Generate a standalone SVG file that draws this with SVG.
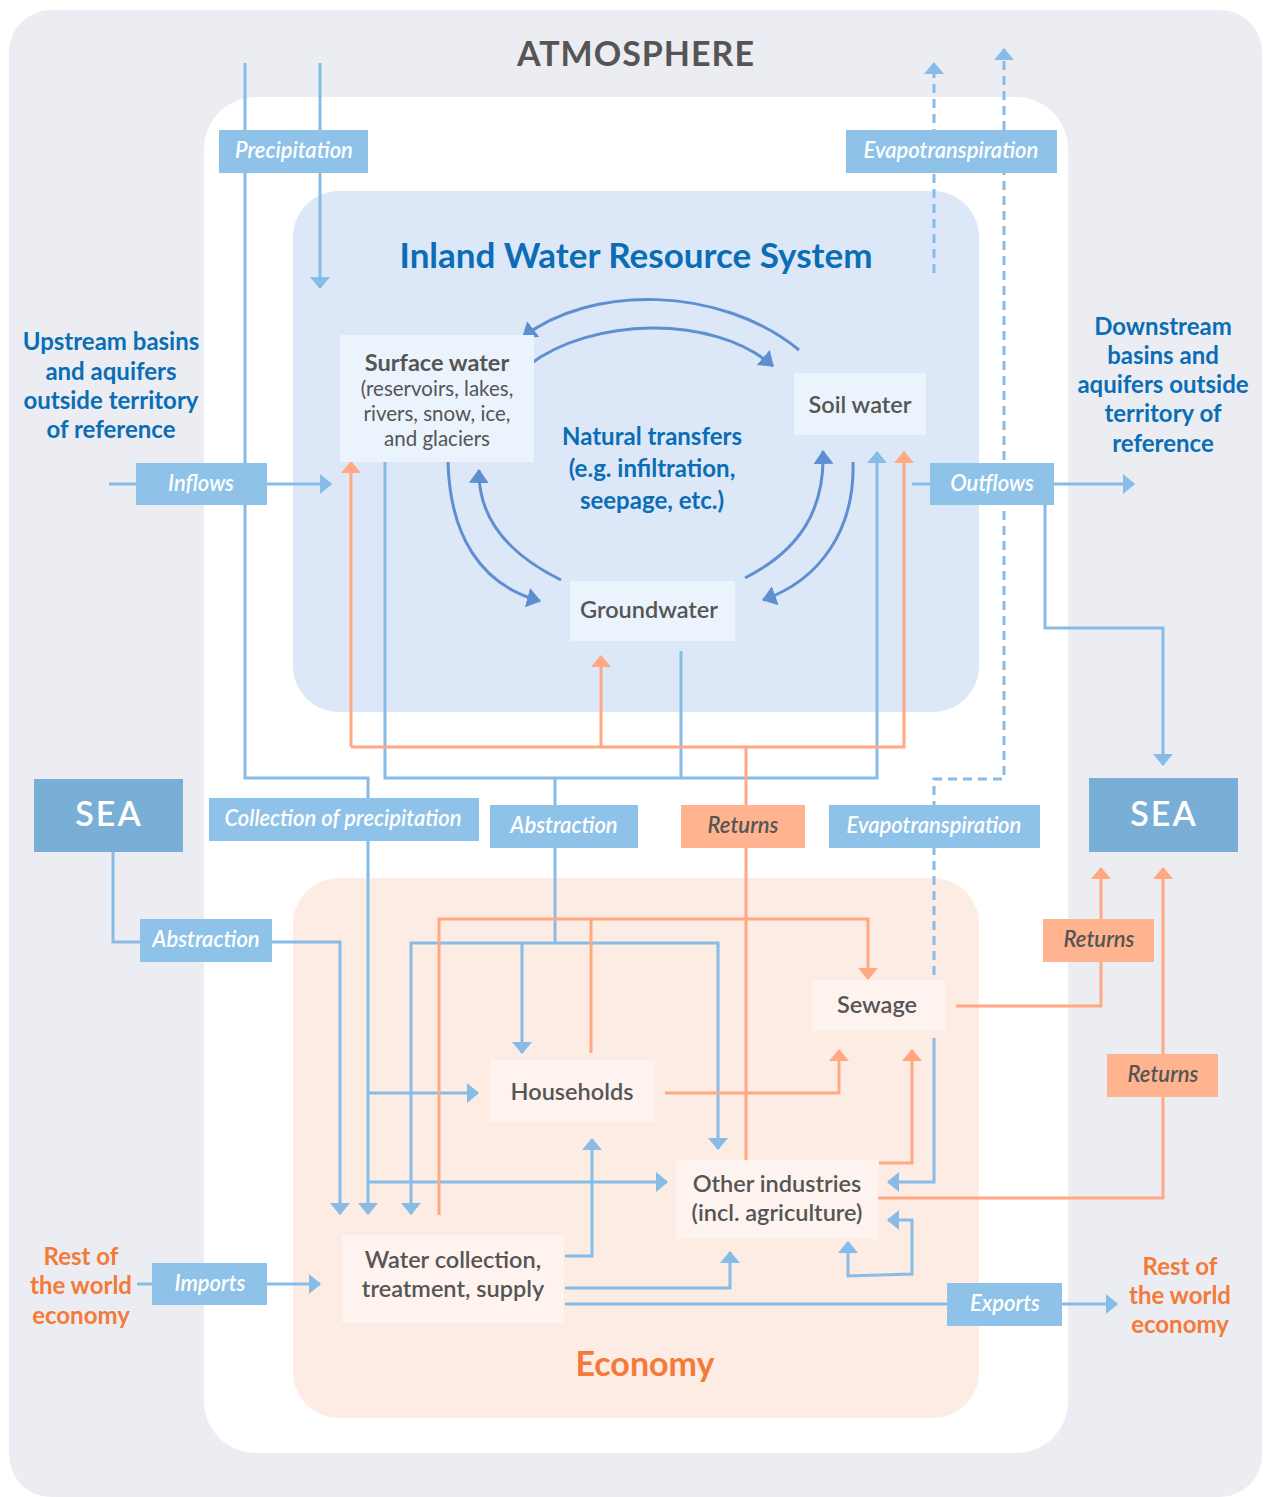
<svg xmlns="http://www.w3.org/2000/svg" width="1263" height="1497" viewBox="0 0 1263 1497">
  <style>
    text { font-family: Lato, "Liberation Sans", sans-serif; }
    .blue { fill: none; stroke: #86BCE7; stroke-width: 3; }
    .orange { fill: none; stroke: #FFA882; stroke-width: 3; }
    .dash { fill: none; stroke: #86BCE7; stroke-width: 3; stroke-dasharray: 9 6; }
    .curve { fill: none; stroke: #5E8FD0; stroke-width: 3; }
    .lblB { fill: #8EC2E8; }
    .lblO { fill: #FFB38E; }
    .lblTxtB { fill: #ffffff; font-size: 22px; font-style: italic; font-weight: 600; text-anchor: middle; }
    .lblTxtO { fill: #555555; font-size: 22px; font-style: italic; font-weight: 600; text-anchor: middle; }
    .nodeW { fill: #EBF3FC; }
    .nodeE { fill: #FEF3EE; }
    .nodeTxt { fill: #555555; font-size: 23.5px; font-weight: 600; text-anchor: middle; }
    .bold { font-weight: 700; }
    .subTxt { fill: #555555; font-size: 20.5px; text-anchor: middle; }
    .blueTxt { fill: #0B6DB5; font-size: 24px; font-weight: 700; text-anchor: middle; }
    .orangeTxt { fill: #F47A3A; font-size: 24px; font-weight: 700; text-anchor: middle; }
    .sea { fill: #79AFD7; }
    .seaTxt { fill: #ffffff; font-size: 34px; font-weight: 600; letter-spacing: 2px; text-anchor: middle; }
  </style>
  <defs>
    <marker id="arrB" viewBox="0 0 12 20" markerWidth="12" markerHeight="20" refX="11" refY="10" markerUnits="userSpaceOnUse" orient="auto-start-reverse">
      <path d="M0,0 L12,10 L0,20 Z" fill="#86BCE7"/>
    </marker>
    <marker id="arrO" viewBox="0 0 12 20" markerWidth="12" markerHeight="20" refX="11" refY="10" markerUnits="userSpaceOnUse" orient="auto">
      <path d="M0,0 L12,10 L0,20 Z" fill="#FFA882"/>
    </marker>
    <marker id="arrC" viewBox="0 0 14 20" markerWidth="14" markerHeight="20" refX="13" refY="10" markerUnits="userSpaceOnUse" orient="auto">
      <path d="M0,0 L14,10 L0,20 Z" fill="#5E8FD0"/>
    </marker>
  </defs>

  <!-- outer frames -->
  <rect x="9" y="10" width="1253" height="1487" rx="42" fill="#ECEDF2"/>
  <rect x="204" y="97" width="864" height="1356" rx="52" fill="#ffffff"/>
  <rect x="293" y="191" width="686" height="521" rx="46" fill="#DCE8F7"/>
  <rect x="293" y="878" width="686" height="540" rx="46" fill="#FDECE4"/>

  <text x="636" y="66" font-size="34" font-weight="700" fill="#555555" text-anchor="middle" letter-spacing="1">ATMOSPHERE</text>
  <text x="636" y="268" font-size="35" font-weight="700" fill="#0B6DB5" text-anchor="middle">Inland Water Resource System</text>
  <text x="645" y="1376" font-size="34" font-weight="700" fill="#F47A3A" text-anchor="middle">Economy</text>

  <g id="connectors">
    <!-- precipitation -->
    <path class="blue" d="M320,63 V288" marker-end="url(#arrB)"/>
    <path class="blue" d="M245,63 V778 H368 V1214" marker-end="url(#arrB)"/>
    <path class="blue" d="M368,1093 H478" marker-end="url(#arrB)"/>
    <path class="blue" d="M368,1182 H667" marker-end="url(#arrB)"/>
    <!-- inflows / outflows -->
    <path class="blue" d="M109,484 H331" marker-end="url(#arrB)"/>
    <path class="blue" d="M912,484 H1134" marker-end="url(#arrB)"/>
    <path class="blue" d="M1045,505 V628 H1163 V765" marker-end="url(#arrB)"/>
    <!-- abstraction from inland water -->
    <path class="blue" d="M385,462 V778 H877 V452" marker-end="url(#arrB)"/>
    <path class="blue" d="M681,651 V778"/>
    <path class="blue" d="M555,778 V943"/>
    <path class="blue" d="M411,1214 V943 H718 V1149" marker-start="url(#arrB)" marker-end="url(#arrB)"/>
    <path class="blue" d="M522,943 V1053" marker-end="url(#arrB)"/>
    <!-- abstraction from sea -->
    <path class="blue" d="M113,852 V942 H340 V1214" marker-end="url(#arrB)"/>
    <!-- imports / exports -->
    <path class="blue" d="M137,1284 H320" marker-end="url(#arrB)"/>
    <path class="blue" d="M565,1304 H1117" marker-end="url(#arrB)"/>
    <!-- water supply -->
    <path class="blue" d="M565,1256 H592 V1139" marker-end="url(#arrB)"/>
    <path class="blue" d="M565,1288 H730 V1252" marker-end="url(#arrB)"/>
    <path class="blue" d="M934,1038 V1182 H888" marker-end="url(#arrB)"/>
    <path class="blue" d="M888,1220 H912 V1274 L848,1276 V1242" marker-start="url(#arrB)" marker-end="url(#arrB)"/>

    <!-- evapotranspiration -->
    <path class="dash" d="M934,273 V63" marker-end="url(#arrB)"/>
    <path class="dash" d="M934,975 V779 H1004 V49" marker-end="url(#arrB)"/>

    <!-- returns -->
    <path class="orange" d="M351,747 V462" marker-end="url(#arrO)"/>
    <path class="orange" d="M351,747 H904 V452" marker-end="url(#arrO)"/>
    <path class="orange" d="M601,747 V656" marker-end="url(#arrO)"/>
    <path class="orange" d="M746,747 V1160"/>
    <path class="orange" d="M439,1215 V919 H868 V979" marker-end="url(#arrO)"/>
    <path class="orange" d="M591,1053 V919"/>
    <path class="orange" d="M665,1093 H839 V1050" marker-end="url(#arrO)"/>
    <path class="orange" d="M879,1163 H912 V1050" marker-end="url(#arrO)"/>
    <path class="orange" d="M878,1198 H1163 V868" marker-end="url(#arrO)"/>
    <path class="orange" d="M956,1006 H1101 V868" marker-end="url(#arrO)"/>

    <!-- natural transfers -->
    <path class="curve" d="M799,350 C720,285 590,285 523,337" marker-end="url(#arrC)"/>
    <path class="curve" d="M529,365 C590,318 712,313 773,366" marker-end="url(#arrC)"/>
    <path class="curve" d="M448,462 C450,535 480,585 540,601" marker-end="url(#arrC)"/>
    <path class="curve" d="M561,580 C510,555 478,520 479,470" marker-end="url(#arrC)"/>
    <path class="curve" d="M745,578 C800,550 825,510 823,451" marker-end="url(#arrC)"/>
    <path class="curve" d="M853,462 C855,530 820,580 763,600" marker-end="url(#arrC)"/>
  </g>

  <!-- flow labels -->
  <g id="lbl-precipitation"><rect class="lblB" x="219" y="130" width="149" height="43"/><text class="lblTxtB" x="294" y="158">Precipitation</text></g>
  <g id="lbl-evap-top"><rect class="lblB" x="846" y="130" width="211" height="43"/><text class="lblTxtB" x="951" y="158">Evapotranspiration</text></g>
  <g id="lbl-inflows"><rect class="lblB" x="136" y="463" width="131" height="42"/><text class="lblTxtB" x="201" y="491">Inflows</text></g>
  <g id="lbl-outflows"><rect class="lblB" x="930" y="463" width="124" height="42"/><text class="lblTxtB" x="992" y="491">Outflows</text></g>
  <g id="lbl-collection"><rect class="lblB" x="209" y="798" width="270" height="43"/><text class="lblTxtB" x="343" y="826">Collection of precipitation</text></g>
  <g id="lbl-abstraction"><rect class="lblB" x="490" y="805" width="148" height="43"/><text class="lblTxtB" x="564" y="833">Abstraction</text></g>
  <g id="lbl-returns"><rect class="lblO" x="681" y="805" width="124" height="43"/><text class="lblTxtO" x="743" y="833">Returns</text></g>
  <g id="lbl-evap-mid"><rect class="lblB" x="829" y="805" width="211" height="43"/><text class="lblTxtB" x="934" y="833">Evapotranspiration</text></g>
  <g id="lbl-sea-abstraction"><rect class="lblB" x="140" y="919" width="132" height="43"/><text class="lblTxtB" x="206" y="947">Abstraction</text></g>
  <g id="lbl-returns-sewage"><rect class="lblO" x="1043" y="919" width="111" height="43"/><text class="lblTxtO" x="1099" y="947">Returns</text></g>
  <g id="lbl-returns-industry"><rect class="lblO" x="1107" y="1054" width="111" height="43"/><text class="lblTxtO" x="1163" y="1082">Returns</text></g>
  <g id="lbl-imports"><rect class="lblB" x="152" y="1263" width="115" height="42"/><text class="lblTxtB" x="210" y="1291">Imports</text></g>
  <g id="lbl-exports"><rect class="lblB" x="947" y="1283" width="115" height="43"/><text class="lblTxtB" x="1005" y="1311">Exports</text></g>

  <!-- nodes -->
  <g id="surface-water">
    <rect class="nodeW" x="340" y="335" width="194" height="127"/>
    <text class="nodeTxt bold" x="437" y="371">Surface water</text>
    <text class="subTxt" x="437" y="396">(reservoirs, lakes,</text>
    <text class="subTxt" x="437" y="421">rivers, snow, ice,</text>
    <text class="subTxt" x="437" y="446">and glaciers</text>
  </g>
  <g id="soil-water">
    <rect class="nodeW" x="794" y="373" width="132" height="62"/>
    <text class="nodeTxt" x="860" y="413">Soil water</text>
  </g>
  <g id="groundwater">
    <rect class="nodeW" x="570" y="581" width="165" height="60"/>
    <text class="nodeTxt" x="649" y="618">Groundwater</text>
  </g>
  <g id="natural-transfers">
    <text class="blueTxt" x="652" y="445">Natural transfers</text>
    <text class="blueTxt" x="652" y="477">(e.g. infiltration,</text>
    <text class="blueTxt" x="652" y="509">seepage, etc.)</text>
  </g>
  <g id="upstream">
    <text class="blueTxt" x="111" y="350">Upstream basins</text>
    <text class="blueTxt" x="111" y="380">and aquifers</text>
    <text class="blueTxt" x="111" y="409">outside territory</text>
    <text class="blueTxt" x="111" y="438">of reference</text>
  </g>
  <g id="downstream">
    <text class="blueTxt" x="1163" y="335">Downstream</text>
    <text class="blueTxt" x="1163" y="364">basins and</text>
    <text class="blueTxt" x="1163" y="393">aquifers outside</text>
    <text class="blueTxt" x="1163" y="422">territory of</text>
    <text class="blueTxt" x="1163" y="452">reference</text>
  </g>
  <g id="sea-left">
    <rect class="sea" x="34" y="779" width="149" height="73"/>
    <text class="seaTxt" x="109" y="826">SEA</text>
  </g>
  <g id="sea-right">
    <rect class="sea" x="1089" y="778" width="149" height="74"/>
    <text class="seaTxt" x="1164" y="826">SEA</text>
  </g>
  <g id="sewage">
    <rect class="nodeE" x="812" y="980" width="133" height="51"/>
    <text class="nodeTxt" x="877" y="1013">Sewage</text>
  </g>
  <g id="households">
    <rect class="nodeE" x="490" y="1060" width="165" height="62"/>
    <text class="nodeTxt" x="572" y="1100">Households</text>
  </g>
  <g id="other-industries">
    <rect class="nodeE" x="676" y="1160" width="202" height="79"/>
    <text class="nodeTxt" x="777" y="1192">Other industries</text>
    <text class="nodeTxt" x="777" y="1221">(incl. agriculture)</text>
  </g>
  <g id="water-supply">
    <rect class="nodeE" x="342" y="1235" width="222" height="88"/>
    <text class="nodeTxt" x="453" y="1268">Water collection,</text>
    <text class="nodeTxt" x="453" y="1297">treatment, supply</text>
  </g>
  <g id="rest-of-world-left">
    <text class="orangeTxt" x="81" y="1265">Rest of</text>
    <text class="orangeTxt" x="81" y="1294">the world</text>
    <text class="orangeTxt" x="81" y="1324">economy</text>
  </g>
  <g id="rest-of-world-right">
    <text class="orangeTxt" x="1180" y="1275">Rest of</text>
    <text class="orangeTxt" x="1180" y="1304">the world</text>
    <text class="orangeTxt" x="1180" y="1333">economy</text>
  </g>
</svg>
